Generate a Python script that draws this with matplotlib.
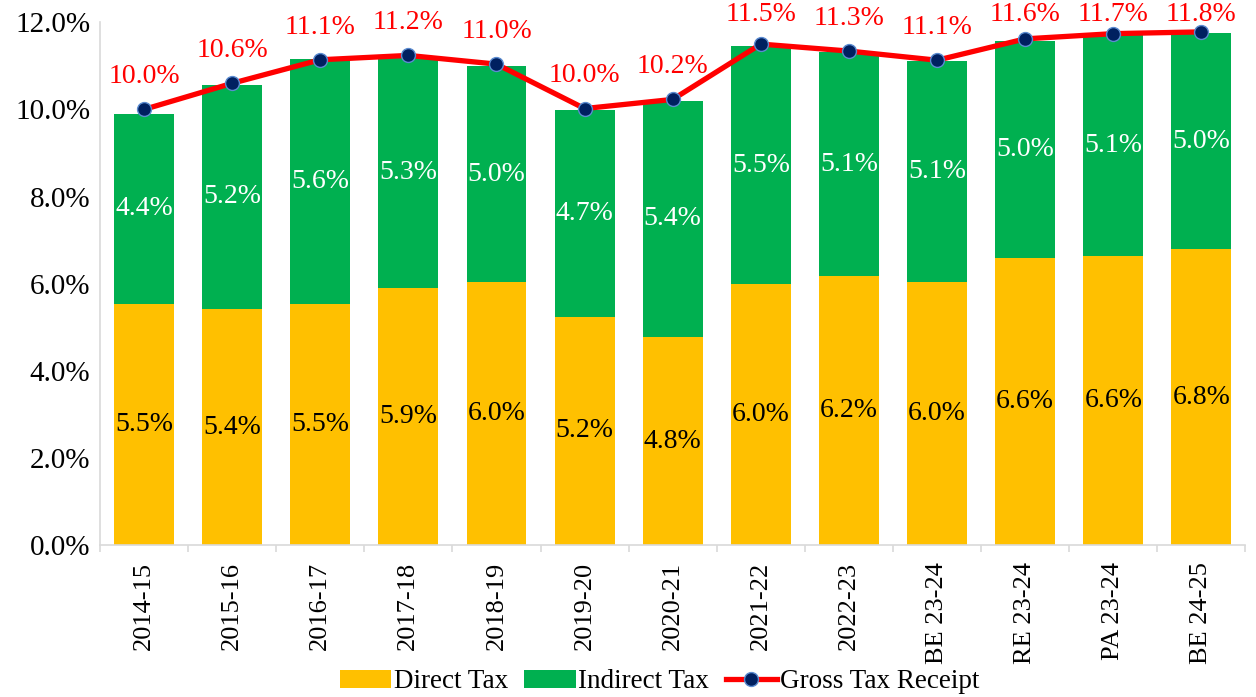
import matplotlib.pyplot as plt
import numpy as np
from matplotlib.ticker import FuncFormatter

years = ["2014-15", "2015-16", "2016-17", "2017-18", "2018-19", "2019-20", "2020-21",
         "2021-22", "2022-23", "BE 23-24", "RE 23-24", "PA 23-24", "BE 24-25"]
direct_tax = [5.53, 5.41, 5.53, 5.89, 6.03, 5.24, 4.77, 5.99, 6.17, 6.04, 6.58, 6.64, 6.79]
indirect_tax = [4.37, 5.16, 5.62, 5.33, 4.96, 4.74, 5.43, 5.46, 5.14, 5.07, 4.98, 5.06, 4.96]
gross_tax = [10.0, 10.6, 11.14, 11.24, 11.04, 10.02, 10.23, 11.5, 11.34, 11.13, 11.62, 11.74, 11.78]

plt.rcParams['font.family'] = ['Liberation Serif', 'DejaVu Serif']

fig = plt.figure(figsize=(12.56, 6.97), dpi=100)
ax = fig.add_axes([0.0796, 0.218, 0.912, 0.75])

x = np.arange(len(years))
w = 0.68
ax.bar(x, direct_tax, w, color="#FFC000", label="Direct Tax", zorder=2)
ax.bar(x, indirect_tax, w, bottom=direct_tax, color="#00B050", label="Indirect Tax", zorder=2)
ax.plot(x, gross_tax, color="#FF0000", lw=3.8, marker="o", markersize=10,
        markerfacecolor="#002060", markeredgecolor="#5B8BD0", markeredgewidth=1,
        label="Gross Tax Receipt", zorder=3)

for i in range(len(years)):
    ax.text(x[i], direct_tax[i] / 2, f"{direct_tax[i]:.1f}%", ha="center", va="center",
            fontsize=20, color="black", zorder=4)
    ax.text(x[i], direct_tax[i] + indirect_tax[i] / 2, f"{indirect_tax[i]:.1f}%",
            ha="center", va="center", fontsize=20, color="white", zorder=4)
    ax.text(x[i], min(gross_tax[i] + 0.75, 12.18), f"{gross_tax[i]:.1f}%", ha="center",
            va="center", fontsize=20, color="#FF0000", zorder=4, clip_on=False)

ax.set_xlim(-0.5, len(years) - 0.5)
ax.set_ylim(0, 12)
ax.set_yticks(np.arange(0, 12.1, 2))
ax.yaxis.set_major_formatter(FuncFormatter(lambda v, p: f"{v:.1f}%"))
ax.set_xticks(x)
ax.set_xticklabels(years, rotation=90)
ax.set_xticks(np.arange(-0.5, len(years), 1), minor=True)
ax.tick_params(axis="x", which="major", length=0, pad=12, labelsize=19)
ax.tick_params(axis="x", which="minor", length=5, color="#D9D9D9", width=1.2)
ax.tick_params(axis="y", length=0, pad=7, labelsize=21)

for s in ["top", "right"]:
    ax.spines[s].set_visible(False)
for s in ["left", "bottom"]:
    ax.spines[s].set_color("#D9D9D9")
    ax.spines[s].set_linewidth(1.2)

h, l = ax.get_legend_handles_labels()
order = [1, 2, 0]
fig.legend([h[k] for k in order], [l[k] for k in order], loc="center",
           bbox_to_anchor=(0.525, 0.022), ncol=3, frameon=False,
           fontsize=19.5, handlelength=1.9, handleheight=0.65, handletextpad=0.1,
           columnspacing=0.6)

fig.savefig("out.png", dpi=100)
